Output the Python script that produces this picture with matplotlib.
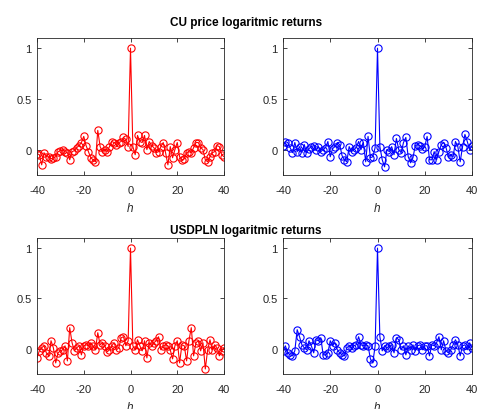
import numpy as np
import matplotlib
matplotlib.use("Agg")
import matplotlib.pyplot as plt

lags = list(range(-40, 41))

cu_left = [-0.04, -0.05, -0.15, -0.03, -0.07, -0.07, -0.09, -0.08, -0.07, -0.02,
           -0.01, 0.00, -0.02, -0.03, -0.10, -0.02, -0.01, 0.02, 0.04, 0.07,
           0.13, 0.04, -0.02, -0.08, -0.10, -0.12, 0.19, 0.03, -0.02, 0.00,
           -0.02, 0.03, 0.08, 0.07, 0.05, 0.07, 0.08, 0.12, 0.10, 0.03,
           1.00,
           0.03, -0.05, 0.14, 0.08, 0.07, 0.14, 0.00, 0.08, 0.04, 0.02,
           -0.03, -0.02, 0.03, 0.07, -0.03, -0.15, 0.03, -0.08, 0.00, 0.07,
           -0.07, -0.10, -0.09, -0.03, -0.02, -0.03, 0.02, 0.07, 0.07, 0.02,
           0.00, -0.10, -0.12, -0.07, -0.03, -0.02, 0.04, 0.03, -0.05, -0.07]

cu_right = [0.04, 0.08, 0.07, 0.02, -0.03, 0.07, -0.02, 0.03, -0.03, 0.05,
            -0.03, 0.01, 0.03, 0.04, 0.00, 0.03, -0.02, 0.00, 0.02, 0.08,
            -0.07, 0.01, 0.03, 0.07, 0.05, -0.06, -0.10, -0.12, 0.03, -0.02,
            0.00, 0.02, 0.08, 0.00, 0.07, -0.12, 0.13, -0.08, -0.07, 0.02,
            1.00,
            0.03, -0.10, -0.17, 0.00, -0.02, 0.03, -0.05, 0.11, 0.00, -0.03,
            0.07, 0.12, -0.07, -0.13, -0.08, 0.04, 0.05, 0.04, 0.01, 0.03,
            0.13, -0.10, -0.10, -0.02, -0.10, -0.02, 0.05, 0.07, 0.02, -0.07,
            -0.05, -0.07, 0.08, 0.03, -0.12, 0.03, 0.15, 0.08, 0.00, 0.04]

usd_left = [-0.09, -0.02, 0.01, 0.03, -0.04, -0.07, 0.08, 0.01, -0.14, -0.04,
            -0.02, -0.01, 0.03, -0.12, 0.21, 0.06, -0.02, 0.01, 0.03, -0.06,
            0.03, 0.04, 0.03, 0.06, 0.03, -0.01, 0.16, 0.04, 0.06, 0.03,
            -0.03, -0.01, 0.03, 0.06, -0.01, 0.01, 0.11, 0.12, 0.03, 0.08,
            1.00,
            0.03, -0.01, 0.09, 0.03, -0.02, 0.08, -0.09, 0.06, 0.03, 0.06,
            0.08, 0.12, -0.01, 0.03, 0.04, 0.03, -0.01, -0.10, 0.03, 0.08,
            -0.14, 0.04, 0.03, -0.12, 0.08, 0.21, -0.07, 0.06, 0.08, -0.02,
            0.06, -0.20, -0.01, 0.09, -0.01, 0.04, 0.01, -0.07, -0.02, 0.01]

usd_right = [-0.02, 0.03, -0.04, -0.06, -0.07, -0.02, 0.19, 0.12, 0.04, 0.01,
             -0.01, 0.08, 0.03, -0.04, 0.09, 0.08, 0.11, -0.06, -0.06, -0.04,
             0.08, 0.03, 0.06, -0.01, -0.04, -0.06, -0.07, 0.01, 0.03, 0.01,
             0.03, 0.04, 0.12, 0.04, 0.03, 0.04, 0.03, -0.10, -0.14, 0.03,
             1.00,
             0.12, -0.02, 0.03, 0.01, 0.03, 0.04, -0.04, 0.11, 0.09, -0.01,
             0.03, -0.06, 0.03, -0.01, 0.04, -0.02, 0.03, 0.04, -0.01, 0.03,
             0.03, -0.07, 0.04, 0.03, 0.06, 0.12, -0.01, 0.08, -0.02, -0.04,
             -0.01, 0.04, 0.09, 0.04, -0.07, 0.03, 0.04, -0.01, 0.06, 0.01]

titles = ["CU price logaritmic returns", "USDPLN logaritmic returns"]
xticks = [-40, -20, 0, 20, 40]
yticks = [0, 0.5, 1]
yticklabels = ["0", "0.5", "1"]

plt.rcParams['font.family'] = ['Liberation Sans', 'DejaVu Sans']
plt.rcParams['axes.unicode_minus'] = False

fig = plt.figure(figsize=(4.79, 4.10), dpi=100)

W, H = 479.0, 410.0
boxes = [
    (37, 39, 187, 137), (283, 39, 189, 137),
    (37, 239, 187, 136), (283, 239, 189, 136),
]
series = [(cu_left, 'red'), (cu_right, 'blue'), (usd_left, 'red'), (usd_right, 'blue')]
axc = '#262626'

for (x0, y0, w, h), (vals, col) in zip(boxes, series):
    ax = fig.add_axes([x0 / W, (H - y0 - h) / H, w / W, h / H])
    ax.plot(lags, vals, '-o', color=col, lw=0.8, markersize=5.2,
            markerfacecolor='none', markeredgewidth=0.8)
    ax.set_xlim(-40, 40)
    ax.set_ylim(-0.25, 1.1)
    ax.set_xticks(xticks)
    ax.set_yticks(yticks)
    ax.set_yticklabels(yticklabels)
    ax.tick_params(direction='in', top=True, right=True, length=3, width=0.6,
                   labelsize=8, colors=axc)
    ax.tick_params(axis='x', pad=7.5)
    ax.tick_params(axis='y', pad=4)
    for s in ax.spines.values():
        s.set_linewidth(0.6)
        s.set_color(axc)
    ax.set_xlabel('h', fontstyle='italic', fontsize=8.5, color=axc, labelpad=5)

fig.text(246 / W, 1 - 23 / H, titles[0], ha='center', va='center',
         fontsize=8.5, fontweight='bold', color='black')
fig.text(246 / W, 1 - 231 / H, titles[1], ha='center', va='center',
         fontsize=8.5, fontweight='bold', color='black')

fig.savefig('out.png', dpi=100)
